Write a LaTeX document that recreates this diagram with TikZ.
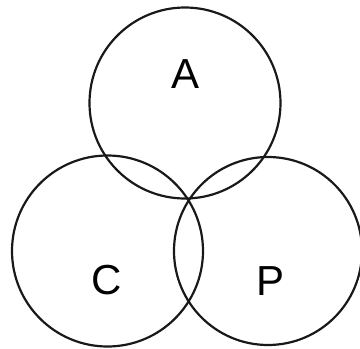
\documentclass[tikz,border=0pt]{standalone}
\usepackage{fontspec}
\setmainfont{Liberation Sans}
\begin{document}
\begin{tikzpicture}[x=1pt,y=-1pt,
  ring/.style={draw=black!90,line width=2.2pt},
  lab/.style={font=\fontsize{42}{42}\selectfont,inner sep=0pt}]
\useasboundingbox (0,0) rectangle (360,349);
\clip (0,0) rectangle (360,349);
\draw[ring] (185,103) circle[radius=95.5];
\draw[ring] (107.5,251) circle[radius=95.5];
\draw[ring] (268,251) circle[radius=94];
\node[lab] (a) at (186,74) {A};
\node[lab] (c) at (107,280) {C};
\node[lab] (p) at (271,281) {P};
\end{tikzpicture}
\end{document}
